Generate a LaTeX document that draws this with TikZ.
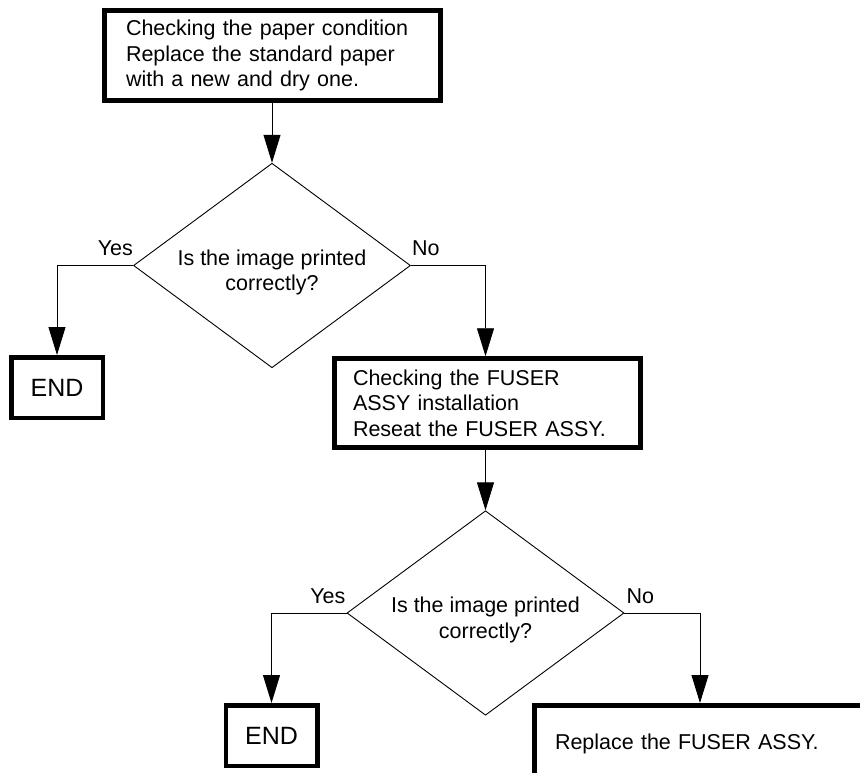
\documentclass[tikz,border=0pt]{standalone}
\usepackage{fontspec}
\setmainfont{Liberation Sans}
\usetikzlibrary{arrows.meta,shapes.geometric}
\begin{document}
\begin{tikzpicture}[x=1pt,y=-1pt,
  txt/.style={font=\fontsize{21.5}{25.5}\selectfont},
  procbox/.style={draw, line width=4.5pt, txt, align=left, inner ysep=0pt},
  endbox/.style={draw, line width=4.5pt, font=\fontsize{25}{30}\selectfont, minimum width=91.5pt, minimum height=60.5pt, inner sep=0pt},
  decision/.style={draw, diamond, line width=0.9pt, minimum width=277pt, minimum height=204.5pt, inner sep=0pt},
  dtext/.style={txt, align=center, inner sep=0pt},
  lbl/.style={txt, inner sep=0pt},
  arr/.style={line width=0.9pt, -{Triangle[length=28pt,width=17pt]}},
]
\useasboundingbox (0,0) rectangle (860,773);
\fill[white] (0,0) rectangle (860,773);
\clip (0,0) rectangle (860,773);

% process boxes
\node[procbox, text width=293pt, inner xsep=21.5pt, minimum height=90pt] (box1) at (272.5,55.5)
  {Checking the paper condition\\Replace the standard paper\\with a new and dry one.};
\node[procbox, text width=269pt, inner xsep=18.5pt, minimum height=89pt] (box2) at (487.5,403)
  {Checking the FUSER\\ASSY installation\\Reseat the FUSER ASSY.};
\node[procbox, anchor=north west, text width=360pt, inner xsep=20.75pt, inner ysep=27.75pt, text height=16pt, text depth=5pt] (box3) at (532,703)
  {Replace the FUSER ASSY.};

% decisions
\node[decision] (d1) at (272,265.5) {};
\node[dtext] (q1) at ([yshift=-7pt]d1.center) {Is the image printed\\correctly?};
\node[decision] (d2) at (485.5,613) {};
\node[dtext] (q2) at ([yshift=-7pt]d2.center) {Is the image printed\\correctly?};

% end boxes
\node[endbox] (end1) at (57,387.5) {END};
\node[endbox] (end2) at (271.5,735.5) {END};

% connectors
\draw[arr] (box1.south -| d1.north) -- (d1.north);
\draw[arr] (d1.west) -| (end1.north);
\draw[arr] (d1.east) -| (box2.north -| d2.north);
\draw[arr] (box2.south -| d2.north) -- (d2.north);
\draw[arr] (d2.west) -| (end2.north);
\coordinate (b3in) at ([xshift=168pt]box3.north west);
\draw[arr] (d2.east) -| (b3in);

% labels
\node[lbl, anchor=base east] (yes1) at ([yshift=10pt]d1.west) {Yes};
\node[lbl, anchor=base west] (no1) at ([xshift=1pt,yshift=10pt]d1.east) {No};
\node[lbl, anchor=base east] (yes2) at ([xshift=-1pt,yshift=10pt]d2.west) {Yes};
\node[lbl, anchor=base west] (no2) at ([xshift=2pt,yshift=10pt]d2.east) {No};
\end{tikzpicture}
\end{document}
